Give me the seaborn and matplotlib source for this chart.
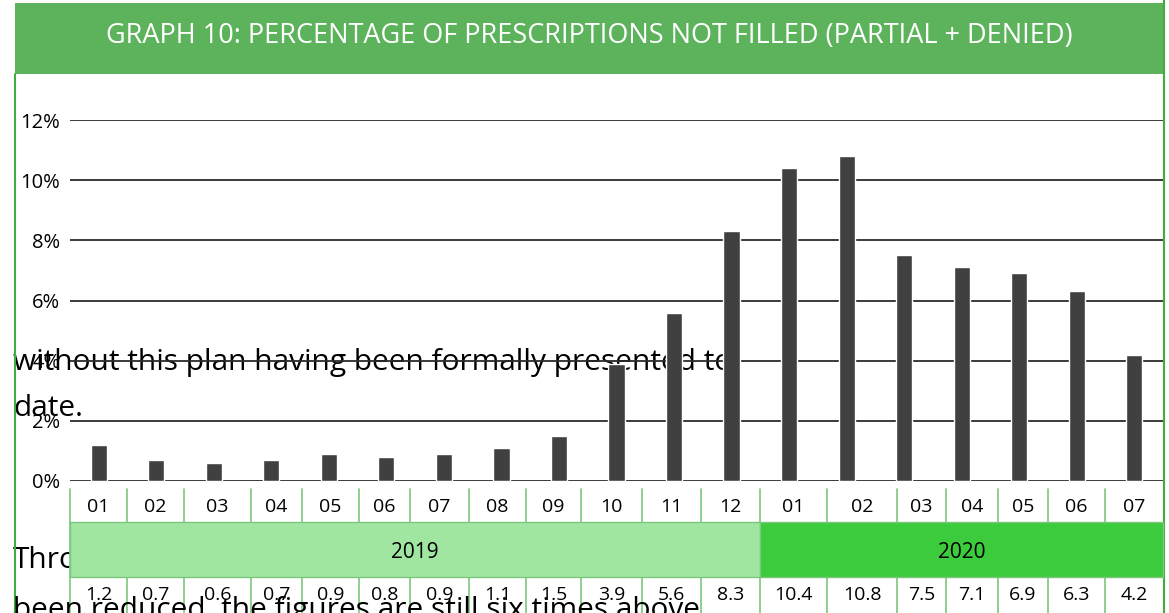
import matplotlib
matplotlib.use("Agg")
import matplotlib.pyplot as plt
import matplotlib.patches as mpatches
import pandas as pd
import seaborn as sns

TITLE = "GRAPH 10: PERCENTAGE OF PRESCRIPTIONS NOT FILLED (PARTIAL + DENIED)"
MONTHS = ["01", "02", "03", "04", "05", "06", "07", "08", "09", "10", "11", "12",
          "01", "02", "03", "04", "05", "06", "07"]
YEARS = ["2019"] * 12 + ["2020"] * 7
NOT_FILLED = [1.2, 0.7, 0.6, 0.7, 0.9, 0.8, 0.9, 1.1, 1.5, 3.9, 5.6, 8.3,
              10.4, 10.8, 7.5, 7.1, 6.9, 6.3, 4.2]
YEAR_COLORS = {"2019": "#a0e6a0", "2020": "#3ccb3c"}

# stray page text that bleeds through the chart in the source
BODY_LINES = ["without this plan having been formally presented to", "date."]
BODY_THRO = "Thro"
BODY_BOTTOM = "been reduced, the figures are still six times above"

# layout in pixels (figure is 1169 x 613)
W, H = 1169, 613
COL_EDGES = [70, 127, 184, 251, 302, 359, 410, 469, 526, 581, 642, 701, 760,
             827, 897, 946, 998, 1048, 1105, 1163]
PLOT_TOP, PLOT_BOTTOM = 120, 481
ROW_MONTH = (481, 522)
ROW_YEAR = (522, 577)
ROW_VALUE = (577, 613)

BAR_COLOR = "#404040"
GRID_COLOR = "#2b2b2b"
TITLE_GREEN = "#5cb35b"
BORDER_GREEN = "#3fae3f"
SEP_GREEN = "#7dc67d"
BODY_SIZE = 21.5

df = pd.DataFrame({
    "period": [f"{y}-{m}" for y, m in zip(YEARS, MONTHS)],
    "month": MONTHS,
    "year": YEARS,
    "pct": NOT_FILLED,
})

sns.set_theme(style="white")
plt.rcParams["font.family"] = ["Open Sans", "DejaVu Sans"]
plt.rcParams["text.color"] = "black"
plt.rcParams["ytick.color"] = "black"
plt.rcParams["ytick.labelcolor"] = "black"

fig = plt.figure(figsize=(W / 100, H / 100), dpi=100)

# background layer: stray text
ax_bg = fig.add_axes([0, 0, 1, 1], zorder=1)
ax_bg.set_xlim(0, W)
ax_bg.set_ylim(H, 0)
ax_bg.axis("off")
ax_bg.text(13, 370, BODY_LINES[0], fontsize=BODY_SIZE, va="baseline")
ax_bg.text(13, 416, BODY_LINES[1], fontsize=BODY_SIZE, va="baseline")

# bar chart
ax = fig.add_axes([COL_EDGES[0] / W, (H - PLOT_BOTTOM) / H,
                   (COL_EDGES[-1] - COL_EDGES[0]) / W, (PLOT_BOTTOM - PLOT_TOP) / H],
                  zorder=2)
ax.patch.set_alpha(0)
sns.barplot(data=df, x="period", y="pct", color=BAR_COLOR, saturation=1,
            width=0.28, ax=ax, zorder=3)
ax.set_ylim(0, 12)
ax.set_xlim(-0.5, len(df) - 0.5)
ax.set_yticks(range(0, 13, 2))
ax.set_yticklabels([f"{t}%" for t in range(0, 13, 2)], fontsize=14.5, color="black")
ax.set_xticks([])
ax.set_xlabel("")
ax.set_ylabel("")
ax.tick_params(axis="y", length=0, pad=7)
for t in range(0, 13, 2):
    ax.axhline(t, color=GRID_COLOR, lw=1.3, zorder=2)
for s in ax.spines.values():
    s.set_visible(False)

# top layer: title bar, table, frame
ax_top = fig.add_axes([0, 0, 1, 1], zorder=3)
ax_top.patch.set_alpha(0)
ax_top.set_xlim(0, W)
ax_top.set_ylim(H, 0)
ax_top.axis("off")

ax_top.add_patch(mpatches.Rectangle((15, 3), 1149, 71, color=TITLE_GREEN, lw=0))
ax_top.text(589, 36, TITLE, color="white", fontsize=19.5, ha="center", va="center")

ax_top.plot([15, 15], [74, H], color=BORDER_GREEN, lw=1.5)
ax_top.plot([1164, 1164], [0, H], color=BORDER_GREEN, lw=1.5)

ax_top.text(13, 568, BODY_THRO, fontsize=BODY_SIZE, va="baseline", zorder=1)

# year band
years_order = list(dict.fromkeys(YEARS))
for yr in years_order:
    idx = [i for i, y in enumerate(YEARS) if y == yr]
    x0, x1 = COL_EDGES[idx[0]], COL_EDGES[idx[-1] + 1]
    ax_top.add_patch(mpatches.Rectangle((x0, ROW_YEAR[0]), x1 - x0, ROW_YEAR[1] - ROW_YEAR[0],
                                        facecolor=YEAR_COLORS[yr], edgecolor=SEP_GREEN,
                                        lw=1, zorder=3))
    ax_top.text((x0 + x1) / 2, (ROW_YEAR[0] + ROW_YEAR[1]) / 2 + 3, yr, fontsize=15,
                ha="center", va="center", zorder=4)

# month and value rows
for i, (m, v) in enumerate(zip(MONTHS, NOT_FILLED)):
    x0, x1 = COL_EDGES[i], COL_EDGES[i + 1]
    xc = (x0 + x1) / 2
    ax_top.text(xc, 507, m, fontsize=14, ha="center", va="center", zorder=4)
    ax_top.text(xc, 595, f"{v:.1f}", fontsize=14, ha="center", va="center", zorder=4)
for x in COL_EDGES[1:-1]:
    ax_top.plot([x, x], [489, ROW_MONTH[1]], color=SEP_GREEN, lw=1.2, zorder=2)
    ax_top.plot([x, x], [ROW_VALUE[0], H], color=SEP_GREEN, lw=1.2, zorder=2)
ax_top.plot([COL_EDGES[0], COL_EDGES[0]], [489, H], color=SEP_GREEN, lw=1.2, zorder=2)

ax_top.text(13, 618, BODY_BOTTOM, fontsize=BODY_SIZE, va="baseline", zorder=5)

fig.savefig("out.png", dpi=100)
